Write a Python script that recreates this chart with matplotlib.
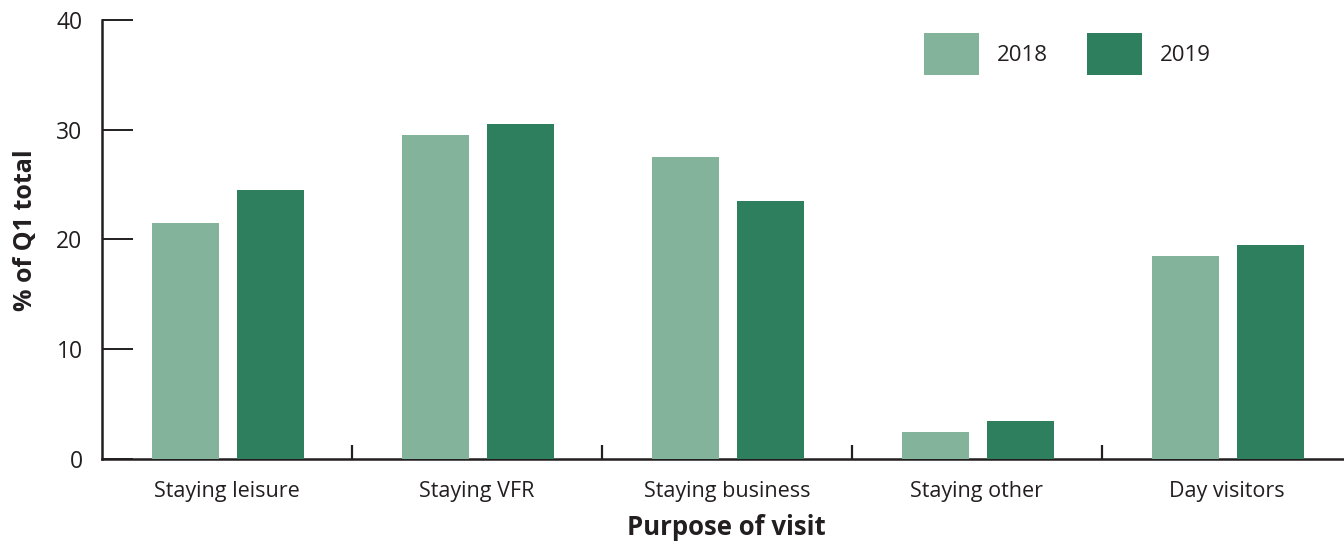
import numpy as np
import matplotlib
matplotlib.use("Agg")
from matplotlib import pyplot as plt

# data
categories = ["Staying leisure", "Staying VFR", "Staying business", "Staying other", "Day visitors"]
share_2018 = [21.5, 29.5, 27.5, 2.5, 18.5]
share_2019 = [24.5, 30.5, 23.5, 3.5, 19.5]
years = ["2018", "2019"]
yticks = [0, 10, 20, 30, 40]

light = "#84b39c"
dark = "#2e7f5e"
ink = "#231f20"

plt.rcParams['font.family'] = ['Open Sans', 'DejaVu Sans']

W, H = 1344, 545
fig = plt.figure(figsize=(W / 100, H / 100), dpi=100)
ax = fig.add_axes([102 / W, (H - 459) / H, 1250 / W, 439 / H])

x = np.arange(len(categories))
ax.bar(x - 0.165, share_2018, width=0.268, color=light, label=years[0], zorder=3)
ax.bar(x + 0.174, share_2019, width=0.268, color=dark, label=years[1], zorder=3)

ax.set_xlim(-0.5, len(categories) - 0.5)
ax.set_ylim(0, 40)

ax.spines['top'].set_visible(False)
ax.spines['right'].set_visible(False)
for s in ('left', 'bottom'):
    ax.spines[s].set_color(ink)
    ax.spines[s].set_linewidth(1.8)

ax.set_yticks(yticks)
ax.tick_params(axis='y', direction='in', length=22, width=1.4, color=ink,
               labelsize=16.5, pad=14, labelcolor=ink)

# category labels as minor ticks, separators as major ticks
ax.set_xticks(np.arange(0.5, len(categories) - 0.5, 1.0))
ax.set_xticklabels([])
ax.tick_params(axis='x', which='major', direction='in', length=10, width=1.6, color=ink)
ax.set_xticks(x, minor=True)
ax.set_xticklabels(categories, minor=True)
ax.tick_params(axis='x', which='minor', length=0, pad=16, labelsize=15.5, labelcolor=ink)

ax.set_ylabel("% of Q1 total", fontsize=18, fontweight='bold', color=ink)
ax.yaxis.set_label_coords((38 - 102) / 1250, (459 - 230) / 439)
ax.set_xlabel("Purpose of visit", fontsize=18.5, fontweight='bold', color=ink)
ax.xaxis.set_label_coords((726 - 102) / 1250, -(514 - 459) / 439)

ax.legend(loc='upper left', bbox_to_anchor=(924 / W, 1 - 33 / H),
          bbox_transform=fig.transFigure, ncol=2, frameon=False, fontsize=16,
          handlelength=2.48, handleheight=2.53, handletextpad=0.81,
          columnspacing=1.75, borderpad=0, borderaxespad=0, labelcolor=ink)

fig.savefig("out.png", dpi=100)
